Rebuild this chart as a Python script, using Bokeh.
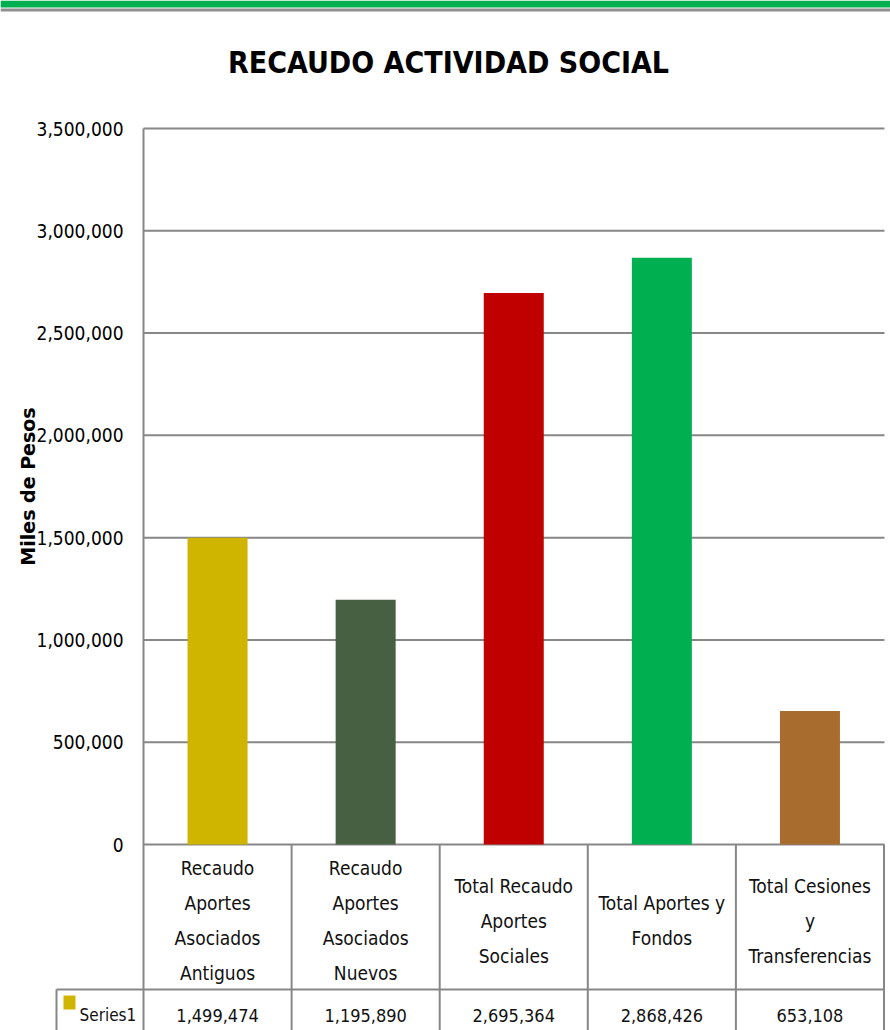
import math
from bokeh.plotting import figure
from bokeh.models import Range1d
from bokeh.core.properties import value
from bokeh.embed import file_html
from bokeh.resources import INLINE

# ---- data ----
title_text = "RECAUDO ACTIVIDAD SOCIAL"
y_title = "Miles de Pesos"
categories = [
    "Recaudo\nAportes\nAsociados\nAntiguos",
    "Recaudo\nAportes\nAsociados\nNuevos",
    "Total Recaudo\nAportes\nSociales",
    "Total Aportes y\nFondos",
    "Total Cesiones\ny\nTransferencias",
]
values = [1499474, 1195890, 2695364, 2868426, 653108]
colors = ["#CFB500", "#466041", "#C00000", "#00B050", "#A86D2E"]
y_ticks = [0, 500000, 1000000, 1500000, 2000000, 2500000, 3000000, 3500000]
series_name = "Series1"

# ---- layout helpers (picture pixels -> data units) ----
X0PX, UX = 143.0, 148.1          # x=0 at px 143, one category = 148.1 px
Y0PX, UY = 844.0, 3500000 / 716  # y=0 at px 844
W, H = 890, 1030

def dx(px):
    return (px - X0PX) / UX

def dy(py):
    return (Y0PX - py) * UY

p = figure(width=W, height=H, output_backend="svg", toolbar_location=None,
           x_range=Range1d(dx(0), dx(W)), y_range=Range1d(dy(H), dy(0)),
           min_border=0, min_border_left=0, min_border_right=0,
           min_border_top=0, min_border_bottom=0)
p.axis.visible = False
p.grid.visible = False
p.outline_line_color = None
p.background_fill_color = "white"
p.border_fill_color = "white"

NARROW = value("'DejaVu Sans Condensed', 'Liberation Sans Narrow', Roboto, sans-serif")
GRID = "#878787"
n = len(categories)

# top banner: green band + grey rule
p.quad(left=[dx(0)], right=[dx(W)], bottom=[dy(7)], top=[dy(0)],
       fill_color="#00B050", line_color=None)
p.segment(x0=[dx(0)], x1=[dx(W)], y0=[dy(9.5)], y1=[dy(9.5)],
          line_color="#8f8f8f", line_width=3)

# gridlines
p.segment(x0=[0] * len(y_ticks), x1=[dx(884)] * len(y_ticks), y0=y_ticks, y1=y_ticks,
          line_color=GRID, line_width=2)

# bars
xs = [i + 0.5 for i in range(n)]
p.vbar(x=xs, top=values, bottom=0, width=60 / UX, fill_color=colors, line_color=None)

# table lines
bottom = dy(H + 5)
p.segment(x0=[0], x1=[0], y0=[y_ticks[-1]], y1=[bottom], line_color=GRID, line_width=2)
p.segment(x0=list(range(1, n + 1)), x1=list(range(1, n + 1)),
          y0=[0] * n, y1=[bottom] * n, line_color=GRID, line_width=2)
p.segment(x0=[dx(56)], x1=[dx(56)], y0=[dy(989)], y1=[bottom], line_color=GRID, line_width=2)
p.segment(x0=[dx(56)], x1=[n], y0=[dy(989)], y1=[dy(989)], line_color=GRID, line_width=2)

# y tick labels
p.text(x=[dx(123)] * len(y_ticks), y=y_ticks, text=[f"{t:,}" for t in y_ticks],
       text_align="right", text_baseline="middle", text_font=NARROW,
       text_font_size="19px", text_color="black")

# y axis title
p.text(x=[dx(27)], y=[dy(486)], text=[y_title], angle=math.pi / 2,
       text_align="center", text_baseline="middle", text_font=value("DejaVu Sans"),
       text_font_style="bold", text_font_size="19px", text_color="black")

# chart title
p.text(x=[dx(448)], y=[dy(62)], text=[title_text], text_align="center",
       text_baseline="middle", text_font=NARROW, text_font_style="bold",
       text_font_size="30px", text_color="black")

# category labels (table header)
lx, ly, lt = [], [], []
for i, c in enumerate(categories):
    lines = c.split("\n")
    m = len(lines)
    for j, s in enumerate(lines):
        lx.append(i + 0.5)
        ly.append(dy(920 + (j - (m - 1) / 2) * 35))
        lt.append(s)
p.text(x=lx, y=ly, text=lt, text_align="center", text_baseline="middle",
       text_font=NARROW, text_font_size="19px", text_color="#111111")

# values row
p.text(x=xs, y=[dy(1015)] * n, text=[f"{v:,}" for v in values], text_align="center",
       text_baseline="middle", text_font=NARROW, text_font_size="18px", text_color="#111111")

# legend key + series name
p.rect(x=[dx(69)], y=[dy(1002)], width=12, height=14, width_units="screen",
       height_units="screen", fill_color=colors[0], line_color=None)
p.text(x=[dx(79)], y=[dy(1014)], text=[series_name], text_align="left",
       text_baseline="middle", text_font=NARROW, text_font_size="17px", text_color="#111111")

open("out.html", "w").write(file_html(p, INLINE))
